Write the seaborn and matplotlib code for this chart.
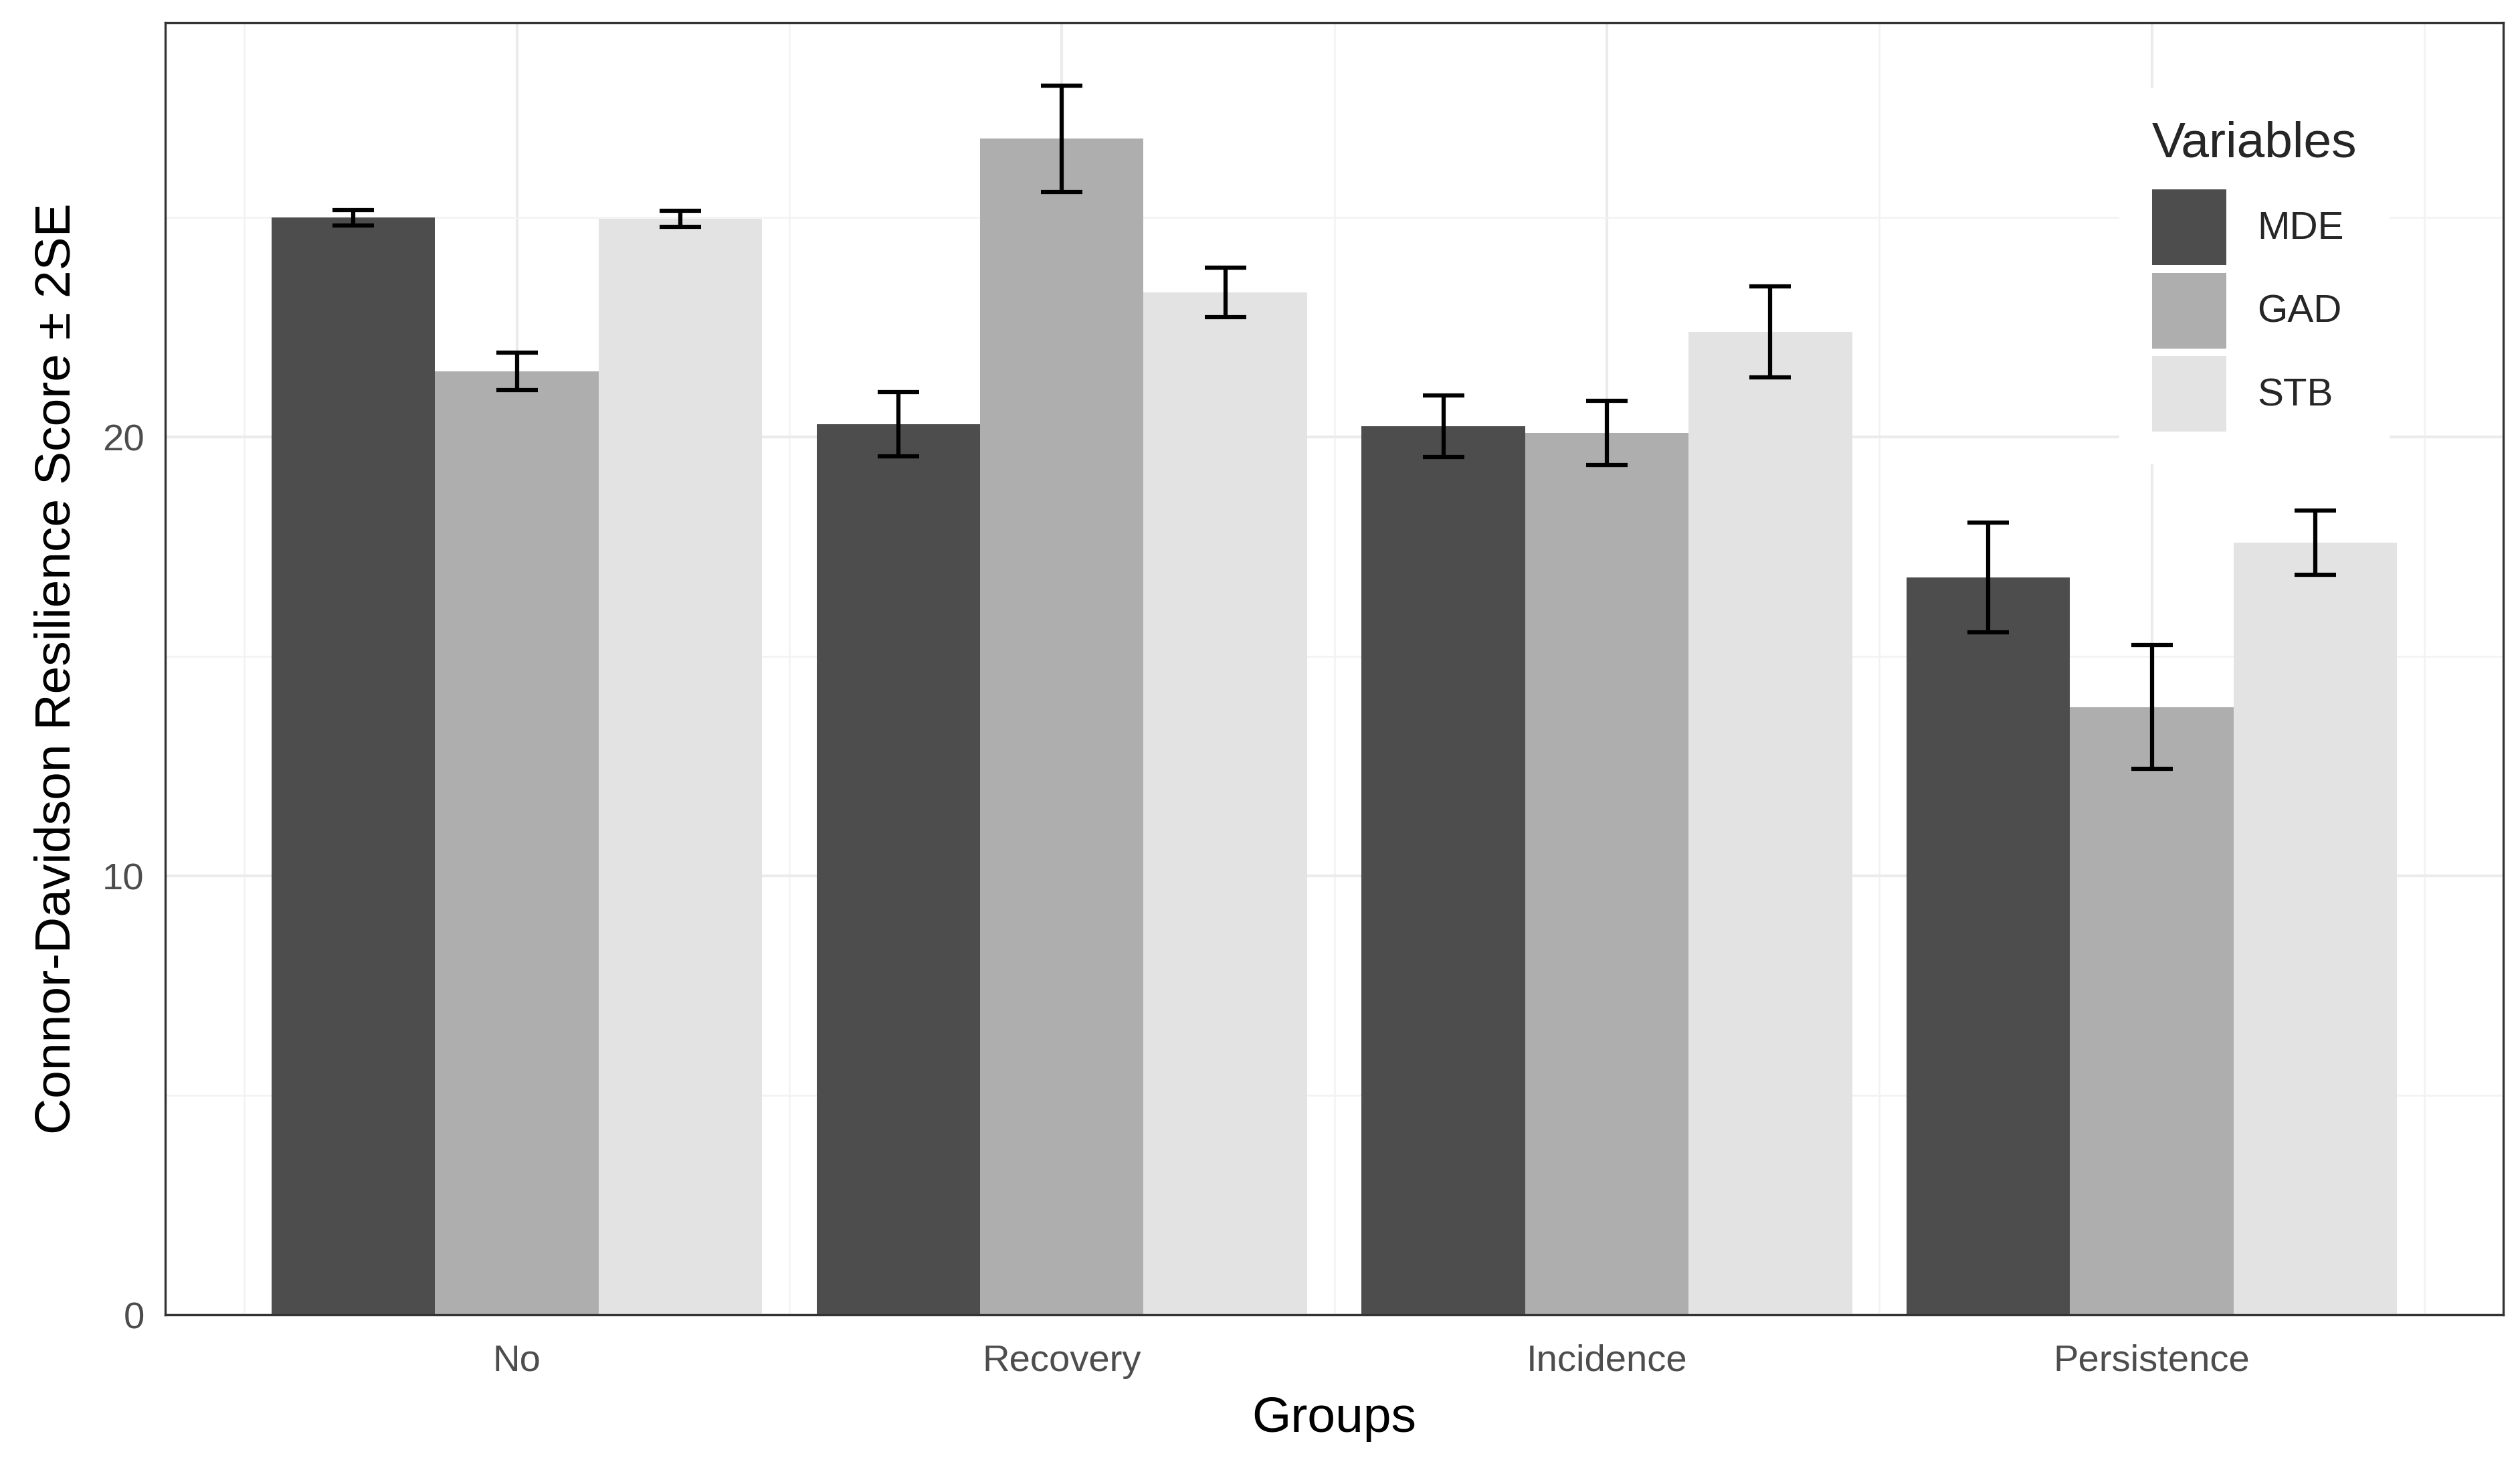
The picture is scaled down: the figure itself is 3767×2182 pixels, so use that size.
import pandas as pd
import matplotlib.pyplot as plt
import numpy as np
import seaborn as sns
from matplotlib.ticker import MultipleLocator

# values (mean, and the +/- 2SE half-width)
groups = ['No', 'Recovery', 'Incidence', 'Persistence']
variables = ['MDE', 'GAD', 'STB']
mde_mean = [25.0, 20.3, 20.25, 16.8]
gad_mean = [21.5, 26.8, 20.1, 13.85]
stb_mean = [24.98, 23.3, 22.4, 17.6]
mde_2se = [0.18, 0.73, 0.70, 1.25]
gad_2se = [0.42, 1.21, 0.73, 1.41]
stb_2se = [0.18, 0.57, 1.04, 0.73]
fill_colors = ['#4D4D4D', '#AEAEAE', '#E3E3E3']

sns.set_theme(style='white')
plt.rcParams['font.family'] = ['Liberation Sans', 'DejaVu Sans']

means = {'MDE': mde_mean, 'GAD': gad_mean, 'STB': stb_mean}
errs = {'MDE': mde_2se, 'GAD': gad_2se, 'STB': stb_2se}
rows = []
for v in variables:
    for g, m in zip(groups, means[v]):
        rows.append({'Groups': g, 'Variables': v, 'Score': m})
df = pd.DataFrame(rows)

fig, ax = plt.subplots(figsize=(3767 / 300, 2182 / 300), dpi=300)
fig.subplots_adjust(left=0.0656, right=0.9934, top=0.9846, bottom=0.0994)

sns.barplot(data=df, x='Groups', y='Score', hue='Variables', order=groups,
            hue_order=variables, palette=fill_colors, width=0.9, gap=0,
            saturation=1, errorbar=None, linewidth=0, ax=ax, zorder=2)

for container, v in zip(ax.containers, variables):
    xs = [p.get_x() + p.get_width() / 2 for p in container]
    ys = [p.get_height() for p in container]
    ax.errorbar(xs, ys, yerr=errs[v], fmt='none', ecolor='black',
                elinewidth=1.5, capsize=7.5, capthick=1.5, zorder=3)

ax.set_xlim(-0.645, 3.645)
ax.set_ylim(0, 29.45)
ax.yaxis.set_major_locator(MultipleLocator(10))
ax.yaxis.set_minor_locator(MultipleLocator(5))
ax.xaxis.set_minor_locator(MultipleLocator(0.5))
ax.grid(True, which='major', color='#EBEBEB', lw=1.0, zorder=0)
ax.grid(True, which='minor', color='#F2F2F2', lw=0.6, zorder=0)
ax.set_axisbelow(True)

for s in ax.spines.values():
    s.set_visible(True)
    s.set_color('#333333')
    s.set_linewidth(0.8)
ax.tick_params(which='major', length=4.5, width=0.8, color='#333333',
               labelcolor='#4D4D4D', labelsize=13.5)
ax.tick_params(axis='x', which='major', pad=6)
ax.tick_params(axis='y', which='major', pad=3)
ax.tick_params(which='minor', length=0)

ax.set_xlabel('Groups', fontsize=18, color='black', labelpad=6)
ax.set_ylabel('Connor-Davidson Resilience Score ± 2SE', fontsize=18,
              color='black', labelpad=8)

handles, labels = ax.get_legend_handles_labels()
leg = ax.legend(handles, labels, title='Variables', loc='upper left',
                bbox_to_anchor=(0.828, 0.963), frameon=True, fancybox=False,
                facecolor='white', edgecolor='white', framealpha=1,
                fontsize=14, title_fontsize=18, handlelength=1.9,
                handleheight=2.6, handletextpad=0.8, labelspacing=0.2,
                borderpad=0.8, alignment='left')
leg._legend_box.sep = 8
leg.set_zorder(5)

plt.savefig('out.png', dpi=300)
plt.close('all')
